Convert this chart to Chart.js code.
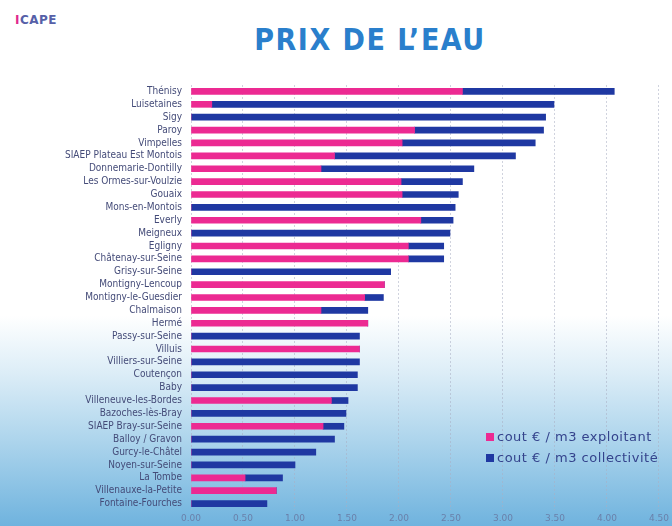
<!DOCTYPE html>
<html>
<head>
<meta charset="utf-8">
<script src="https://cdn.jsdelivr.net/npm/chart.js@4.4.0/dist/chart.umd.min.js"></script>
<style>
  html, body { margin: 0; padding: 0; }
  body {
    width: 672px; height: 526px; overflow: hidden; position: relative;
    background: linear-gradient(to bottom, #ffffff 0%, #ffffff 60%, #dcedf7 71%, #acd4ec 84%, #6fb3de 100%);
    font-family: "DejaVu Sans", sans-serif;
  }
  #logo { position: absolute; left: 15px; top: 13px; font: bold 12px "DejaVu Sans", sans-serif; color: #5660a8; letter-spacing: 0.5px; }
  #logo span { color: #e0288e; }
  #title { position: absolute; left: 0; width: 740px; top: 22px; text-align: center;
    font: bold 30px "DejaVu Sans Condensed", "DejaVu Sans", sans-serif; color: #2a7fcc; letter-spacing: 1.5px; }
  #chart { position: absolute; left: 0; top: 70px; }
  #legend { position: absolute; left: 486px; top: 427px; font: 13px "DejaVu Sans", sans-serif; color: #34438c; letter-spacing: 0.5px; }
  #legend div { height: 21px; line-height: 19px; white-space: nowrap; }
  #legend i { display: inline-block; width: 8px; height: 8px; margin-right: 3px; vertical-align: 0px; }
</style>
</head>
<body>
<div id="logo"><span>I</span>CAPE</div>
<div id="title">PRIX DE L’EAU</div>
<canvas id="chart" width="724" height="456"></canvas>
<div id="legend"></div>
<script>
const communes = ["Thénisy", "Luisetaines", "Sigy", "Paroy", "Vimpelles", "SIAEP Plateau Est Montois",
  "Donnemarie-Dontilly", "Les Ormes-sur-Voulzie", "Gouaix", "Mons-en-Montois", "Everly", "Meigneux",
  "Egligny", "Châtenay-sur-Seine", "Grisy-sur-Seine", "Montigny-Lencoup", "Montigny-le-Guesdier",
  "Chalmaison", "Hermé", "Passy-sur-Seine", "Villuis", "Villiers-sur-Seine", "Coutençon", "Baby",
  "Villeneuve-les-Bordes", "Bazoches-lès-Bray", "SIAEP Bray-sur-Seine", "Balloy / Gravon",
  "Gurcy-le-Châtel", "Noyen-sur-Seine", "La Tombe", "Villenauxe-la-Petite", "Fontaine-Fourches"];

const exploitant = [2.61, 0.20, 0, 2.15, 2.03, 1.38, 1.25, 2.02, 2.03, 0, 2.21, 0, 2.09, 2.09, 0, 1.86,
  1.67, 1.25, 1.70, 0, 1.62, 0, 0, 0, 1.35, 0, 1.27, 0, 0, 0, 0.52, 0.82, 0];
const collectivite = [1.46, 3.29, 3.41, 1.24, 1.28, 1.74, 1.47, 0.59, 0.54, 2.54, 0.31, 2.49, 0.34, 0.34,
  1.92, 0, 0.18, 0.45, 0, 1.62, 0, 1.62, 1.60, 1.60, 0.16, 1.49, 0.20, 1.38, 1.20, 1.00, 0.36, 0, 0.73];

const seriesNames = ["cout € / m3 exploitant", "cout € / m3 collectivité"];
const seriesColors = ["#ec2a92", "#1f38a2"];

const ctx = document.getElementById("chart").getContext("2d");
const chart = new Chart(ctx, {
  type: "bar",
  data: {
    labels: communes,
    datasets: [
      { label: seriesNames[0], data: exploitant, backgroundColor: seriesColors[0], barThickness: 6 },
      { label: seriesNames[1], data: collectivite, backgroundColor: seriesColors[1], barThickness: 6 }
    ]
  },
  options: {
    indexAxis: "y",
    responsive: false,
    animation: false,
    devicePixelRatio: 1,
    layout: { padding: { top: 7, right: 0, left: 0, bottom: 0 } },
    plugins: { legend: { display: false }, tooltip: { enabled: false } },
    scales: {
      x: {
        stacked: true,
        min: 0, max: 5,
        ticks: { stepSize: 0.5, callback: v => v.toFixed(2), color: "#6a80aa",
          font: { family: "DejaVu Sans", size: 9 }, padding: 3 },
        grid: { color: "rgba(170,175,195,0.55)", drawTicks: false, lineWidth: 1 },
        border: { display: false, dash: [2, 2] },
        afterFit: s => { s.height = 16; }
      },
      y: {
        stacked: true,
        ticks: { color: "#444b78", font: { family: "DejaVu Sans Condensed", size: 10 },
          padding: 9, autoSkip: false },
        grid: { display: false, drawTicks: false },
        border: { display: false },
        afterFit: s => { s.width = 191; }
      }
    }
  }
});

// legend built from the dataset labels
const legend = document.getElementById("legend");
chart.data.datasets.forEach(ds => {
  const row = document.createElement("div");
  row.innerHTML = '<i style="background:' + ds.backgroundColor + '"></i>' + ds.label;
  legend.appendChild(row);
});
</script>
</body>
</html>
